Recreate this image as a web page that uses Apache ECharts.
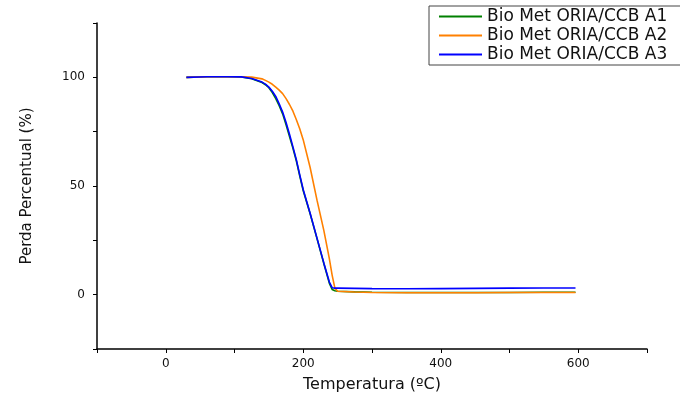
<!DOCTYPE html>
<html>
<head>
<meta charset="utf-8">
<script src="https://cdn.jsdelivr.net/npm/echarts@6/dist/echarts.min.js"></script>
<style>
  html, body { margin: 0; padding: 0; background: #fff; }
  #chart { width: 680px; height: 398px; }
</style>
</head>
<body>
<div id="chart"></div>
<script>
// TGA curves
const tempC = [30, 60, 90, 110, 125, 140, 145, 150, 155, 160, 165, 170, 175, 180, 185, 190, 195, 200, 210, 220, 230, 238, 242, 246, 250, 275, 300, 350, 400, 450, 500, 550, 596]
const lossA1 = [100.0, 100.3, 100.3, 100.2, 99.4, 97.6, 96.6, 95.2, 93.0, 90.2, 87.0, 83.2, 78.2, 72.8, 67.3, 61.5, 54.5, 47.8, 37.2, 25.8, 14.2, 5.2, 2.4, 1.8, 1.6, 1.3, 1.1, 1.0, 1.0, 1.0, 1.0, 1.1, 1.1]
const lossA2 = [100.0, 100.3, 100.3, 100.3, 100.1, 99.3, 98.6, 97.8, 96.8, 95.5, 94.1, 92.5, 90.2, 87.5, 84.4, 80.5, 76.2, 71.2, 58.5, 43.5, 29.5, 16.5, 9.0, 3.0, 1.6, 1.2, 1.0, 0.9, 0.9, 0.9, 1.0, 1.0, 1.0]
const lossA3 = [100.0, 100.3, 100.3, 100.2, 99.5, 97.8, 96.9, 95.5, 93.6, 91.2, 87.8, 84.0, 79.2, 73.8, 68.0, 62.0, 55.0, 48.3, 37.5, 26.0, 14.5, 5.8, 3.2, 3.0, 3.0, 2.9, 2.8, 2.7, 2.8, 2.9, 3.0, 3.1, 3.1]
const seriesNames = ['Bio Met ORIA/CCB A1', 'Bio Met ORIA/CCB A2', 'Bio Met ORIA/CCB A3']
const seriesColors = ['#008000', '#ff8000', '#0000ff']
const xLabels = [0, 200, 400, 600]
const yLabels = [0, 50, 100]

const FONT = '"DejaVu Sans", sans-serif'
const pairs = (vals) => tempC.map((t, i) => [t, vals[i]])

const chart = echarts.init(document.getElementById('chart'))

const axisCommon = {
  axisLine: { show: true, onZero: false, lineStyle: { color: '#000', width: 1.5 } },
  axisTick: { show: true, length: 4, lineStyle: { color: '#000', width: 1 } },
  splitLine: { show: false },
  nameLocation: 'middle',
  nameTextStyle: { fontFamily: FONT, color: '#111' },
}

chart.setOption({
  animation: false,
  backgroundColor: '#fff',
  grid: { left: 97, right: 33, top: 23, bottom: 49 },
  legend: {
    data: seriesNames,
    orient: 'vertical',
    left: 429,
    top: 6,
    padding: [2, 20, 2, 10],
    icon: 'rect',
    itemWidth: 43,
    itemHeight: 2,
    itemGap: 2,
    borderColor: '#444',
    borderWidth: 1,
    textStyle: { fontFamily: FONT, fontSize: 17, color: '#111' },
  },
  xAxis: {
    ...axisCommon,
    type: 'value',
    min: -100,
    max: 700,
    interval: 100,
    name: 'Temperatura (ºC)',
    nameGap: 28,
    nameTextStyle: { ...axisCommon.nameTextStyle, fontSize: 16 },
    axisLabel: {
      margin: 9,
      fontFamily: FONT,
      fontSize: 12,
      color: '#111',
      formatter: (v) => (xLabels.includes(v) ? String(v) : ''),
    },
  },
  yAxis: {
    ...axisCommon,
    type: 'value',
    min: -25,
    max: 125,
    interval: 25,
    name: 'Perda Percentual (%)',
    nameGap: 62,
    nameTextStyle: { ...axisCommon.nameTextStyle, fontSize: 15 },
    axisLabel: {
      margin: 12,
      fontFamily: FONT,
      fontSize: 12,
      color: '#111',
      formatter: (v) => (yLabels.includes(v) ? String(v) : ''),
    },
  },
  series: [lossA1, lossA2, lossA3].map((vals, i) => ({
    name: seriesNames[i],
    type: 'line',
    data: pairs(vals),
    symbol: 'none',
    smooth: false,
    color: seriesColors[i],
    lineStyle: { color: seriesColors[i], width: 1.6 },
  })),
})
</script>
</body>
</html>
